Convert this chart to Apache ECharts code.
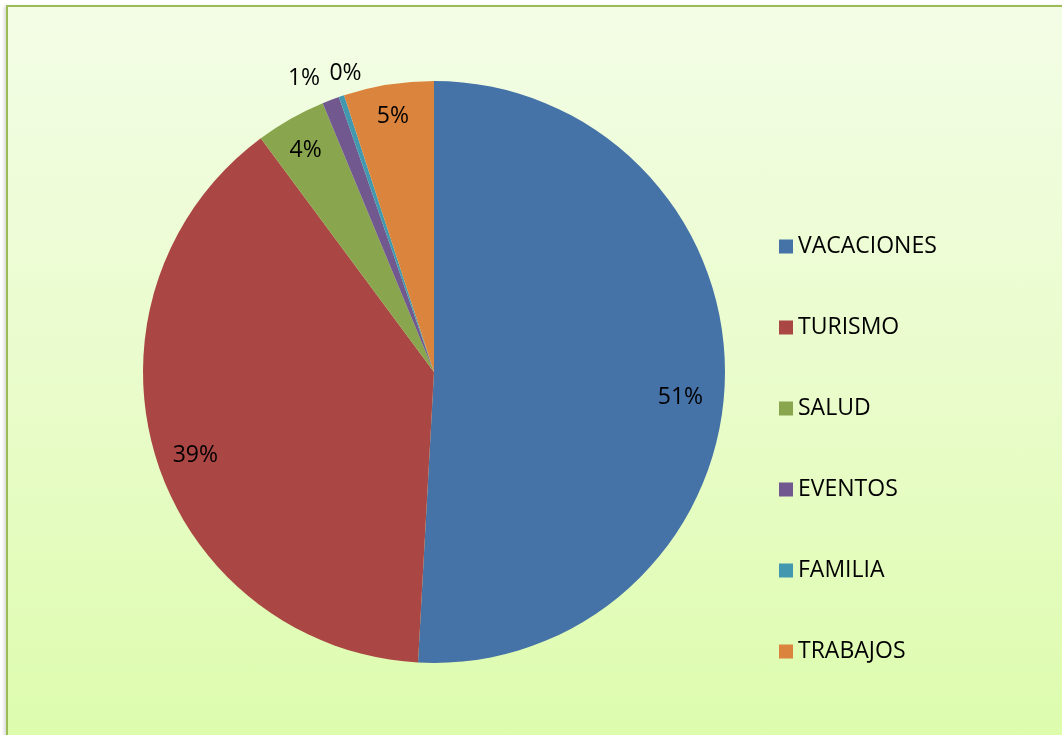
<!DOCTYPE html>
<html>
<head>
<meta charset="utf-8">
<script src="https://cdn.jsdelivr.net/npm/echarts@6/dist/echarts.min.js"></script>
<style>
    html, body { margin: 0; padding: 0; background: #ffffff; overflow: hidden; }
    #myChart {
        position: absolute;
        left: 6px;
        top: 5px;
        width: 1100px;
        height: 780px;
        border-left: 2px solid #9bbb59;
        border-top: 2px solid #9bbb59;
        box-shadow: -2px 1px 3px rgba(0, 0, 0, 0.15);
        background: linear-gradient(to bottom, #f3fde6 0%, #e9fcca 50%, #dbfca9 100%);
    }
</style>
</head>
<body>
<div id="myChart"></div>
<script>
    // categorias y valores (porcentajes)
    var categories = ['VACACIONES', 'TURISMO', 'SALUD', 'EVENTOS', 'FAMILIA', 'TRABAJOS']
    var values = [50.9, 39.0, 3.9, 0.95, 0.3, 5.0]
    var colors = ['#4572a7', '#aa4643', '#89a54e', '#71588f', '#4198af', '#db843d']

    var fontFam = '"Open Sans", "Noto Sans", sans-serif'
    // desplazamiento de etiquetas (igual que Excel)
    var labelOffsets = [[-10, 18], [7, 10], [-2, 2], [-39, -54], [-7, -55], [-1, -2]]

    var baseData = []
    var labelData = []
    for (var i = 0; i < categories.length; i++) {
        baseData.push({
            name: categories[i],
            value: values[i],
            itemStyle: { color: colors[i] }
        })
        labelData.push({
            name: categories[i],
            value: values[i],
            label: { offset: labelOffsets[i] }
        })
    }

    var myChart = echarts.init(document.getElementById('myChart'))
    myChart.setOption({
        animation: false,
        legend: {
            orient: 'vertical',
            left: 766,
            top: 223,
            itemWidth: 14,
            itemHeight: 14,
            itemGap: 58,
            itemTextGap: 11,
            icon: 'rect',
            data: categories,
            textStyle: {
                fontFamily: fontFam,
                fontSize: 23,
                color: '#000',
                lineHeight: 20
            }
        },
        series: [{
            name: 'base',
            type: 'pie',
            center: [426, 365],
            radius: [0, 291],
            startAngle: 90,
            clockwise: true,
            label: { show: false },
            labelLine: { show: false },
            data: baseData
        },
        {
            // serie transparente solo para colocar las etiquetas
            name: 'labels',
            type: 'pie',
            center: [426, 365],
            radius: [216, 291],
            startAngle: 90,
            clockwise: true,
            silent: true,
            legendHoverLink: false,
            itemStyle: { color: 'rgba(0,0,0,0)' },
            label: {
                show: true,
                position: 'inside',
                formatter: function (p) { return Math.round(p.value) + '%' },
                fontFamily: fontFam,
                fontSize: 23,
                color: '#000'
            },
            labelLine: { show: false },
            data: labelData
        }]
    })
</script>
</body>
</html>
